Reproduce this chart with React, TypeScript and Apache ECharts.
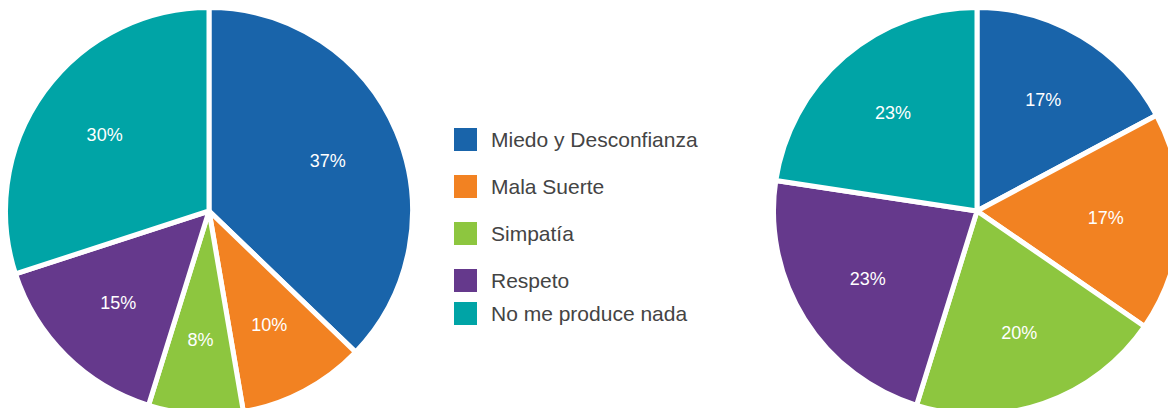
import React, { useEffect, useRef } from "react";
import * as echarts from "echarts";

const categories = ["Miedo y Desconfianza", "Mala Suerte", "Simpatía", "Respeto", "No me produce nada"];
// shares; labels show them rounded
const leftValues = [37.2, 10.1, 7.5, 15.2, 30.0];
const rightValues = [17.2, 17.4, 20.2, 22.6, 22.6];
const palette = ["#1964AA", "#F28222", "#8DC63F", "#65398C", "#00A4A6"];

const FONT = "'Liberation Sans', Arial, Helvetica, sans-serif";

function pieSeries(values: number[], center: [number, number]) {
  const data = categories.map((name, i) => ({
    name,
    value: values[i],
    itemStyle: { color: palette[i] },
  }));
  const overlay = categories.map((name, i) => ({
    name,
    value: values[i],
    itemStyle: { color: "rgba(0,0,0,0)" },
  }));
  return [
    {
      type: "pie",
      center,
      radius: 203.5,
      startAngle: 90,
      clockwise: true,
      label: { show: false },
      labelLine: { show: false },
      itemStyle: { borderColor: "#ffffff", borderWidth: 5 },
      emphasis: { disabled: true },
      data,
    },
    {
      type: "pie",
      center,
      radius: 252,
      startAngle: 90,
      clockwise: true,
      silent: true,
      legendHoverLink: false,
      avoidLabelOverlap: false,
      itemStyle: { borderWidth: 0 },
      label: {
        show: true,
        position: "inside",
        formatter: (p: any) => Math.round(p.value) + "%",
        color: "#ffffff",
        fontSize: 18,
        fontFamily: FONT,
      },
      labelLine: { show: false },
      emphasis: { disabled: true },
      data: overlay,
    },
  ];
}

export default function App() {
  const ref = useRef<HTMLDivElement>(null);
  useEffect(() => {
    if (!ref.current) return;
    const chart = echarts.init(ref.current, undefined, { renderer: "svg" });
    const legendData = categories.map((name, i) => ({ name, itemStyle: { color: palette[i] } }));
    const legendBase = {
      orient: "vertical",
      left: 452,
      padding: 0,
      itemWidth: 25,
      itemHeight: 25,
      itemGap: 20,
      icon: "rect",
      selectedMode: false,
      textStyle: { fontSize: 21, color: "#444444", fontFamily: FONT, padding: [0, 0, 0, 8] },
    };
    chart.setOption({
      animation: false,
      legend: [
        { ...legendBase, top: 126, data: legendData.slice(0, 4) },
        { ...legendBase, top: 300, data: legendData.slice(4) },
      ],
      series: [...pieSeries(leftValues, [209, 211]), ...pieSeries(rightValues, [977, 211])],
    });
    return () => chart.dispose();
  }, []);
  return (
    <div
      ref={ref}
      style={{ position: "fixed", left: 0, top: 0, width: 1168, height: 408, background: "#ffffff" }}
    />
  );
}
